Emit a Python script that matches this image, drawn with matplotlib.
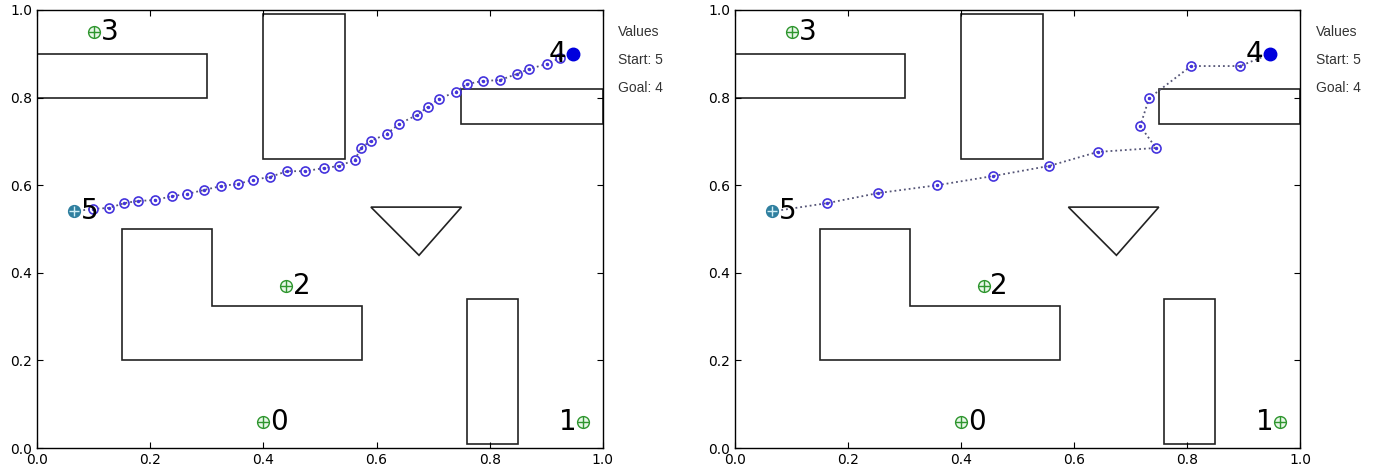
import numpy as np
import matplotlib.pyplot as plt
from matplotlib.patches import Polygon

# obstacles (polygons)
rect_top_left = [(0.0, 0.8), (0.3, 0.8), (0.3, 0.9), (0.0, 0.9)]
rect_tall = [(0.4, 0.66), (0.545, 0.66), (0.545, 0.99), (0.4, 0.99)]
rect_right = [(0.75, 0.74), (1.0, 0.74), (1.0, 0.82), (0.75, 0.82)]
triangle = [(0.59, 0.55), (0.75, 0.55), (0.675, 0.44)]
l_shape = [(0.15, 0.2), (0.15, 0.5), (0.31, 0.5), (0.31, 0.325), (0.575, 0.325), (0.575, 0.2)]
rect_bottom = [(0.76, 0.01), (0.85, 0.01), (0.85, 0.34), (0.76, 0.34)]
obstacles = [rect_top_left, rect_tall, rect_right, triangle, l_shape, rect_bottom]

# nodes
node_ids = [0, 1, 2, 3, 4, 5]
node_x = [0.4, 0.965, 0.44, 0.1, 0.947, 0.065]
node_y = [0.06, 0.06, 0.37, 0.95, 0.9, 0.54]
label_left = [1, 4]
start_id = 5
goal_id = 4

# path on the left panel (dense)
path1_x = [0.065, 0.099, 0.127, 0.154, 0.178, 0.208, 0.239, 0.265, 0.295, 0.325, 0.355,
           0.382, 0.412, 0.442, 0.473, 0.507, 0.534, 0.562, 0.572, 0.590, 0.618, 0.640,
           0.671, 0.691, 0.710, 0.740, 0.760, 0.788, 0.818, 0.848, 0.869, 0.901, 0.924, 0.947]
path1_y = [0.54, 0.546, 0.548, 0.559, 0.564, 0.566, 0.575, 0.580, 0.589, 0.598, 0.603,
           0.612, 0.619, 0.632, 0.632, 0.639, 0.644, 0.658, 0.685, 0.701, 0.717, 0.740,
           0.760, 0.779, 0.797, 0.813, 0.831, 0.838, 0.840, 0.854, 0.865, 0.877, 0.890, 0.900]

# path on the right panel (sparse)
path2_x = [0.065, 0.163, 0.253, 0.358, 0.457, 0.556, 0.642, 0.745, 0.717, 0.733, 0.807, 0.894, 0.947]
path2_y = [0.54, 0.559, 0.582, 0.600, 0.621, 0.644, 0.676, 0.685, 0.735, 0.799, 0.872, 0.872, 0.900]

info_lines = ["Values", "Start: 5", "Goal: 4"]


def draw_panel(ax, px, py):
    for poly in obstacles:
        ax.add_patch(Polygon(poly, closed=True, fill=False, edgecolor='#222222', lw=1.2))
    ax.plot(px, py, linestyle=':', color='#555577', lw=1.3, zorder=2)
    ax.plot(px[1:-1], py[1:-1], linestyle='none', marker='o', ms=6.5, mfc='none',
            mec='#4433dd', mew=1.2, zorder=3)
    ax.plot(px[1:-1], py[1:-1], linestyle='none', marker='o', ms=1.5, color='#4433dd', zorder=3)
    for i, x, y in zip(node_ids, node_x, node_y):
        if i == goal_id:
            ax.plot(x, y, 'o', color='#0000dd', ms=9, zorder=4)
        elif i == start_id:
            ax.plot(x, y, 'o', color='#2f7f9f', ms=8.5, zorder=4)
            ax.plot(x, y, '+', color='#d0eef5', ms=7, mew=1.0, zorder=5)
        else:
            ax.plot(x, y, 'o', mfc='#e8f6e8', mec='#2f962f', ms=8.5, mew=1.0, zorder=4)
            ax.plot(x, y, '+', color='#2f962f', ms=8.5, mew=1.0, zorder=5)
        if i in label_left:
            ax.text(x - 0.012, y, str(i), fontsize=20, ha='right', va='center', zorder=6)
        else:
            ax.text(x + 0.012, y, str(i), fontsize=20, ha='left', va='center', zorder=6)
    ax.set_xlim(0, 1)
    ax.set_ylim(0, 1)
    ax.set_xticks(np.arange(0, 1.01, 0.2))
    ax.set_yticks(np.arange(0, 1.01, 0.2))
    ax.tick_params(direction='in', top=True, right=True, labelsize=10, length=4)
    for s in ax.spines.values():
        s.set_linewidth(1.0)


fig = plt.figure(figsize=(13.87, 4.71), dpi=100)
ax1 = fig.add_axes([0.0267, 0.0488, 0.408, 0.93])
ax2 = fig.add_axes([0.530, 0.0488, 0.4073, 0.93])
draw_panel(ax1, path1_x, path1_y)
draw_panel(ax2, path2_x, path2_y)

for xpos in [618 / 1387, 1316 / 1387]:
    for k, t in enumerate(info_lines):
        fig.text(xpos, 1 - (32 + 28 * k) / 471, t, fontsize=10, color='#333333',
                 family='Liberation Sans', va='center', ha='left')

plt.savefig('out.png', dpi=100)
